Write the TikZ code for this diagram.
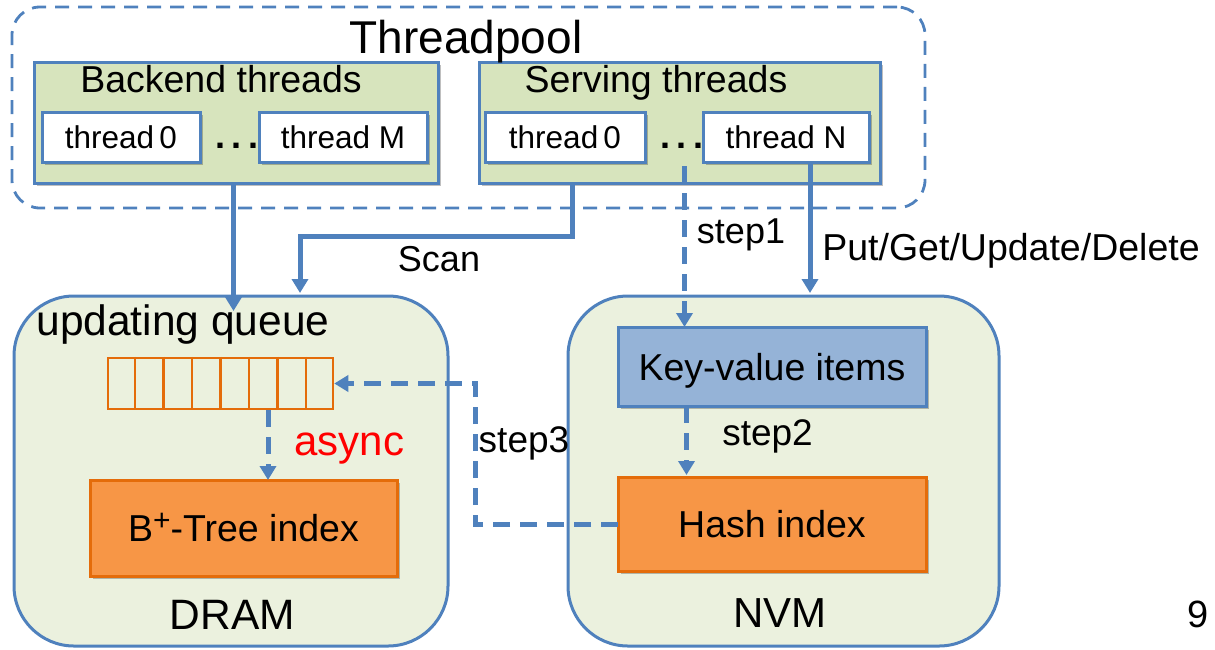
\documentclass[tikz,border=0pt]{standalone}
\usepackage{fontspec}
\setmainfont{Liberation Sans}
\usetikzlibrary{arrows.meta,shadows,calc}
\definecolor{myblue}{HTML}{4F81BD}
\definecolor{mygreen}{HTML}{D7E4BD}
\definecolor{mylight}{HTML}{EBF1DE}
\definecolor{mykv}{HTML}{95B3D7}
\definecolor{myorange}{HTML}{F79646}
\definecolor{myorangeb}{HTML}{E46C0A}
\newcommand{\fsz}[1]{\fontsize{#1}{#1}\selectfont}
\tikzset{
  shad/.style={drop shadow={shadow xshift=2.5pt,shadow yshift=-2.5pt,opacity=0.25,fill=black}},
  rbox/.style={draw=myblue,line width=3pt,inner sep=0pt,outer sep=0pt,text height=27pt,text depth=0pt},
  grbox/.style={rbox,fill=mygreen,shad},
  thbox/.style={rbox,fill=white,shad,font=\fsz{31.5},text height=23pt},
  membox/.style={rbox,fill=mylight,rounded corners=60pt},
  obox/.style={rbox,draw=myorangeb,fill=myorange,shad,font=\fsz{37.5}},
  kvbox/.style={rbox,fill=mykv,shad,font=\fsz{37.5}},
  lbl/.style={anchor=base,inner sep=0pt,outer sep=0pt},
  arr/.style={draw=myblue,line width=5pt,-{Triangle[length=14pt,width=16pt]}},
  darr/.style={arr,dash pattern=on 17pt off 10pt},
  qline/.style={draw=myorangeb,line width=2.5pt}
}
\begin{document}
\begin{tikzpicture}[x=1pt,y=-1pt]
\useasboundingbox (0,0) rectangle (1215,649);
% threadpool
\node[draw=myblue,line width=2.8pt,dash pattern=on 14pt off 9pt,rounded corners=28pt,minimum width=913pt,minimum height=201pt,inner sep=0pt] (tp) at (468.5,107.5) {};
\node[grbox,minimum width=404pt,minimum height=121pt] (backend) at (236,122.5) {};
\node[grbox,minimum width=401pt,minimum height=121pt] (serving) at (679.5,122.5) {};
\node[thbox,minimum width=158pt,minimum height=50pt] (bt0) at (121,137) {thread\,0};
\node[thbox,minimum width=168pt,minimum height=50pt] (btM) at (343,137) {thread M};
\node[thbox,minimum width=160pt,minimum height=50pt] (st0) at (565,137) {thread\,0};
\node[thbox,minimum width=166pt,minimum height=50pt] (stN) at (786,137) {thread N};
% memories
\node[membox,minimum width=434pt,minimum height=350pt] (dram) at (231,471) {};
\node[membox,minimum width=431pt,minimum height=350pt] (nvm) at (783.5,471) {};
\node[draw=myorangeb,line width=2.5pt,inner sep=0pt,minimum width=225pt,minimum height=51pt] (queue) at (220.5,383.5) {};
\foreach \i in {1,...,7}
  \draw[qline] ($(queue.north west)!\i/8!(queue.north east)$) -- ($(queue.south west)!\i/8!(queue.south east)$);
\node[obox,minimum width=307pt,minimum height=96pt] (bpt) at (243.5,528) {B\raisebox{11pt}{\fsz{30}+}-Tree index};
\node[kvbox,minimum width=308pt,minimum height=79pt] (kv) at (772,366.5) {Key-value items};
\node[obox,minimum width=308pt,minimum height=94pt] (hash) at (772,524) {Hash index};
% coordinates
\coordinate (bx) at (233.5,0);
\coordinate (sx) at (572,0);
\coordinate (scanturn) at (300,236);
\coordinate (s1a) at (684.5,166);
\coordinate (px) at (810,0);
\coordinate (s2x) at (686.5,0);
\coordinate (ax) at (268,0);
\coordinate (s3x) at (475,0);
% arrows
\draw[arr,shorten >=-15pt] (backend.south -| bx) -- (dram.north -| bx);
\draw[arr,shorten >=3pt] (serving.south -| sx) |- (scanturn) -- (scanturn |- dram.north);
\draw[darr] (s1a) -- (s1a |- kv.north);
\draw[arr,shorten >=3pt] (stN.south -| px) -- (px |- nvm.north);
\draw[darr,shorten >=2pt] (kv.south -| s2x) -- (hash.north -| s2x);
\draw[darr] (queue.south -| ax) -- (bpt.north -| ax);
\draw[darr] (hash.west) -| (s3x |- queue.east) -- (queue.east);
% labels
\node[lbl,font=\fsz{46}] (tptxt) at (466,53) {Threadpool};
\node[lbl,font=\fsz{37.5}] (bktxt) at (221,92) {Backend threads};
\node[lbl,font=\fsz{37.5}] (svtxt) at (656,92) {Serving threads};
\node[lbl,font=\fsz{36}\bfseries] (dots1) at (237,148) {.\kern7pt.\kern7pt.};
\node[lbl,font=\fsz{36}\bfseries] (dots2) at (682,148) {.\kern7pt.\kern7pt.};
\node[lbl,font=\fsz{36}] (scantxt) at (439,271) {Scan};
\node[lbl,font=\fsz{36}] (s1txt) at (741,243) {step1};
\node[lbl,font=\fsz{37.5}] (puttxt) at (1011,260) {Put/Get/Update/Delete};
\node[lbl,font=\fsz{42.5}] (uqtxt) at (183,335) {updating queue};
\node[lbl,font=\fsz{42},text=red] (asynctxt) at (349.5,455) {async};
\node[lbl,font=\fsz{37}] (s3txt) at (524,452) {step3};
\node[lbl,font=\fsz{37}] (s2txt) at (767.5,445) {step2};
\node[lbl,font=\fsz{42.5}] (dramtxt) at (232.5,629) {DRAM};
\node[lbl,font=\fsz{42}] (nvmtxt) at (780,627) {NVM};
\node[lbl,font=\fsz{38}] (pgtxt) at (1198,627) {9};
\end{tikzpicture}
\end{document}
